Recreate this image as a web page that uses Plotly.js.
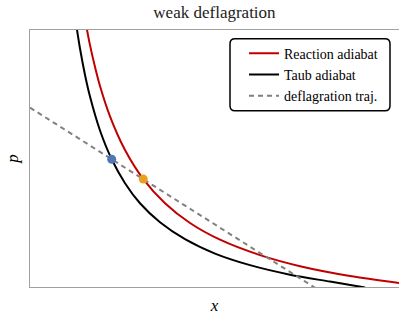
<!DOCTYPE html>
<html>
<head>
<meta charset="utf-8">
<script src="https://cdn.plot.ly/plotly-3.0.1.min.js"></script>
<style>html,body{margin:0;padding:0;background:#fff;}#chart{width:399px;height:319px;}</style>
</head>
<body>
<div id="chart"></div>
<script>
// Reaction adiabat (red)
const reactionX = [0.1518, 0.1626, 0.1762, 0.1897, 0.2168, 0.2575, 0.3070, 0.3659, 0.4336, 0.5149, 0.6233, 0.7317, 0.8672, 1.0];
const reactionP = [1.021, 0.941, 0.856, 0.782, 0.664, 0.533, 0.420, 0.326, 0.249, 0.184, 0.124, 0.081, 0.043, 0.016];
// Taub adiabat (black)
const taubX = [0.1247, 0.1355, 0.1491, 0.1626, 0.1897, 0.2214, 0.2575, 0.2981, 0.3523, 0.4201, 0.5014, 0.5962, 0.7046, 0.8130, 0.9079];
const taubP = [1.026, 0.928, 0.825, 0.741, 0.609, 0.497, 0.404, 0.326, 0.252, 0.186, 0.130, 0.085, 0.048, 0.021, -0.002];
// Deflagration trajectory (dashed)
const trajX = [0.0, 0.80];
const trajP = [0.698, -0.028];
// Marked states
const initX = [0.2214], initP = [0.497];
const finalX = [0.307], finalP = [0.420];

const serif = "Liberation Serif, DejaVu Serif, serif";

const traces = [
  {x: reactionX, y: reactionP, mode: 'lines', name: 'Reaction adiabat',
   line: {color: '#c00000', width: 2, shape: 'spline', smoothing: 0.8}},
  {x: taubX, y: taubP, mode: 'lines', name: 'Taub adiabat',
   line: {color: '#000000', width: 2, shape: 'spline', smoothing: 0.8}},
  {x: trajX, y: trajP, mode: 'lines', name: 'deflagration traj.',
   line: {color: '#808080', width: 2, dash: '5px,4px'}},
  {x: initX, y: initP, mode: 'markers', showlegend: false,
   marker: {color: '#4f76b5', size: 9}},
  {x: finalX, y: finalP, mode: 'markers', showlegend: false,
   marker: {color: '#e8a020', size: 9}}
];

const layout = {
  width: 399, height: 319,
  margin: {l: 30, r: 0, t: 30, b: 32},
  paper_bgcolor: '#fff', plot_bgcolor: '#fff',
  font: {family: serif, color: '#000', size: 14},
  title: {text: 'weak deflagration', font: {family: serif, size: 17, color: '#222'},
          x: 0.5375, xanchor: 'center', y: 0.963, yanchor: 'middle', yref: 'container'},
  showlegend: true,
  legend: {x: 0.58, y: 0.97, xanchor: 'left', yanchor: 'top',
           bgcolor: 'rgba(0,0,0,0)', borderwidth: 0,
           font: {family: serif, size: 14, color: '#000'},
           tracegroupgap: 0, itemwidth: 30},
  xaxis: {range: [0, 1], showgrid: false, zeroline: false, showticklabels: false, ticks: '',
          showline: true, mirror: true, linecolor: '#a0a0a0', linewidth: 1,
          title: {text: '<i>x</i>', font: {family: serif, size: 17}, standoff: 12}},
  yaxis: {range: [0, 1], showgrid: false, zeroline: false, showticklabels: false, ticks: '',
          showline: true, mirror: false, linecolor: '#a0a0a0', linewidth: 1,
          title: {text: '<i>p</i>', font: {family: serif, size: 17}, standoff: 6}},
  shapes: [{
    type: 'path', xref: 'paper', yref: 'paper', layer: 'below',
    path: 'M 0.5556 0.9663 L 0.9620 0.9663 Q 0.9756 0.9663 0.9756 0.9468 L 0.9756 0.7056 Q 0.9756 0.6861 0.9620 0.6861 L 0.5556 0.6861 Q 0.5420 0.6861 0.5420 0.7056 L 0.5420 0.9468 Q 0.5420 0.9663 0.5556 0.9663 Z',
    line: {color: '#000', width: 1.5}, fillcolor: '#fff'
  }]
};

Plotly.newPlot('chart', traces, layout, {displayModeBar: false, staticPlot: true});
</script>
</body>
</html>
